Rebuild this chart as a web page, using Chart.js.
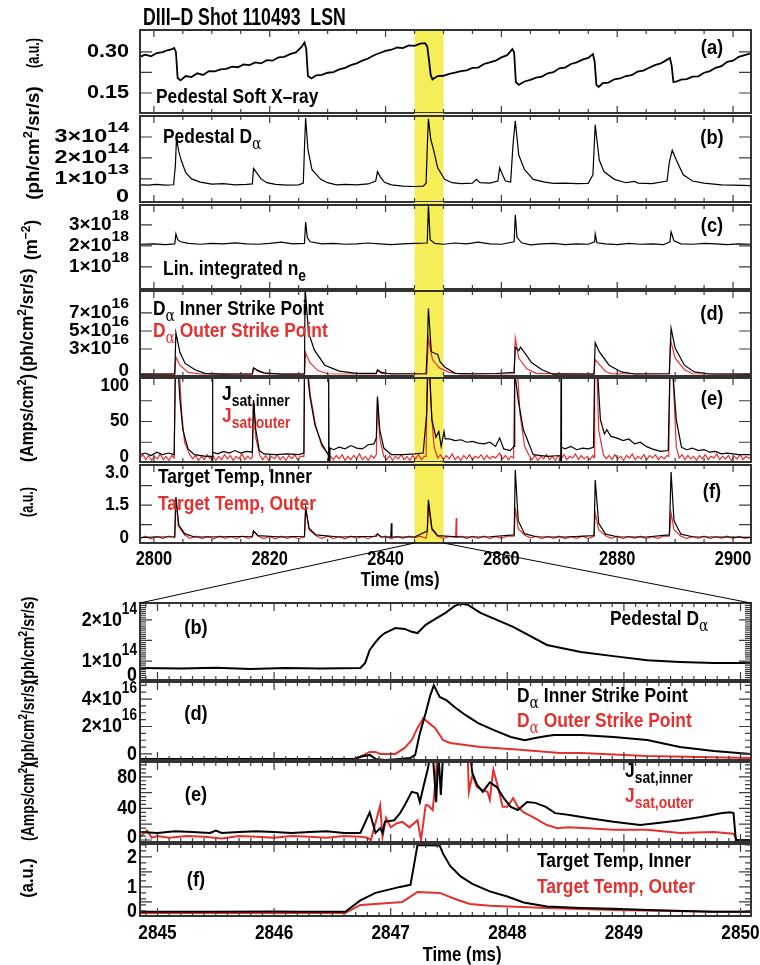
<!DOCTYPE html>
<html>
<head>
<meta charset="utf-8">
<script src="https://cdn.jsdelivr.net/npm/chart.js@4.4.1/dist/chart.umd.min.js"></script>
<style>
  body { margin: 0; background: #fff; }
  #fig { position: relative; width: 760px; height: 965px; overflow: hidden; background: #fff;
         font-family: "Liberation Sans", Arial, sans-serif; font-weight: bold; }
  #fig canvas { position: absolute; left: 0; }
  .txt { position: absolute; white-space: nowrap; line-height: 1; }
  .txt sub { font-size: 0.8em; vertical-align: -0.4em; line-height: 0; }
  .txt sup { font-size: 0.7em; vertical-align: 0.55em; line-height: 0; }
  .alpha { font-family: "DejaVu Serif", serif; font-weight: normal; }
</style>
</head>
<body>
<div id="fig"></div>
<script>
// ---- time axes ----
const topRange = [2797.6, 2903.1];
const zoomRange = [2844.85, 2850.09];
const bandRange = [2845, 2850];
const topTimeTicks = [2800, 2820, 2840, 2860, 2880, 2900];
const zoomTimeTicks = [2845, 2846, 2847, 2848, 2849, 2850];

// ---- top panels: [time ms, value] ----
// (a) pedestal soft x-ray, a.u.
const softXray = [[2797.6,.282],[2798.5,.290],[2799.5,.284],[2800.5,.296],[2801.5,.299],[2802.3,.306],[2803.0,.309],[2803.5,.314],[2803.8,.300],[2804.1,.205],[2804.6,.196],[2805.5,.212],[2806.5,.208],[2807.5,.222],[2808.5,.216],[2809.5,.230],[2810.5,.229],[2811.5,.236],[2812.5,.238],[2813.5,.246],[2814.5,.244],[2815.5,.254],[2816.5,.252],[2817.5,.262],[2818.5,.258],[2819.5,.270],[2820.5,.268],[2821.5,.280],[2822.5,.282],[2823.5,.292],[2824.5,.298],[2825.5,.318],[2826.0,.334],[2826.3,.312],[2826.6,.212],[2827.2,.203],[2828,.214],[2829,.216],[2830,.224],[2831,.226],[2832,.236],[2833,.242],[2834,.252],[2835,.258],[2836,.268],[2837,.276],[2838,.288],[2839,.296],[2840,.304],[2841,.308],[2842,.316],[2843,.314],[2844,.324],[2845,.322],[2846,.330],[2846.8,.332],[2847.2,.320],[2847.5,.270],[2847.8,.215],[2848.1,.200],[2849,.212],[2850,.213],[2851,.220],[2852,.224],[2853,.230],[2854,.233],[2855,.242],[2856,.243],[2857,.256],[2858,.262],[2859,.268],[2860,.280],[2861,.288],[2861.9,.310],[2862.2,.298],[2862.5,.190],[2863,.180],[2864,.192],[2865,.198],[2866,.206],[2867,.210],[2868,.222],[2869,.226],[2870,.240],[2871,.243],[2872,.256],[2873,.262],[2874,.272],[2875,.278],[2875.8,.292],[2876.1,.265],[2876.4,.180],[2876.8,.172],[2877.5,.186],[2878.5,.188],[2879.5,.200],[2880.5,.203],[2881.5,.212],[2882.5,.215],[2883.5,.228],[2884.5,.232],[2885.5,.242],[2886.5,.252],[2887.5,.258],[2888.5,.270],[2889.1,.278],[2889.4,.250],[2889.7,.190],[2890.3,.192],[2891,.199],[2892,.201],[2893,.210],[2894,.211],[2895,.224],[2896,.230],[2897,.242],[2898,.248],[2899,.264],[2900,.268],[2901,.282],[2902,.288],[2903.1,.295]];
// (b) pedestal D-alpha, 1e14 ph/cm2/sr/s
const pedDalpha = [[2797.6,.72],[2799,.70],[2800.5,.74],[2802,.70],[2803.4,.72],[2803.7,1.6],[2803.9,2.93],[2804.3,2.3],[2804.7,1.9],[2805.5,1.3],[2806.5,1.0],[2808,.85],[2810,.75],[2812,.78],[2814,.72],[2816,.74],[2817,.76],[2817.2,1.5],[2817.6,1.35],[2818.5,1.0],[2819.5,.82],[2821,.74],[2823,.70],[2825,.72],[2825.8,.8],[2826.0,2.5],[2826.2,3.9],[2826.6,2.4],[2827.3,1.44],[2828.8,.98],[2830,.82],[2831.5,.72],[2833,.74],[2835,.72],[2837,.76],[2838.3,.9],[2838.6,1.35],[2839.1,1.1],[2839.8,.84],[2841,.72],[2843,.66],[2845,.64],[2846.5,.66],[2847,.8],[2847.2,2.5],[2847.4,3.86],[2847.8,2.9],[2848.3,2.37],[2849,1.53],[2850.2,.98],[2851.5,.82],[2853,.78],[2855,.8],[2855.7,.98],[2856.3,.82],[2858,.8],[2859.4,.9],[2859.7,1.53],[2860.2,1.2],[2860.7,.9],[2861.6,.85],[2862.0,2.6],[2862.4,3.77],[2863,2.14],[2864,1.44],[2865.5,.98],[2867.5,.85],[2869,.79],[2871,.8],[2873,.78],[2875,.79],[2875.8,1.2],[2876.2,3.58],[2876.9,1.9],[2877.7,1.35],[2879.5,.98],[2881.5,.82],[2883,.88],[2883.6,.8],[2886,.78],[2888.6,.9],[2889.0,1.8],[2889.5,2.37],[2890.2,1.9],[2891.4,1.2],[2893,.9],[2895,.8],[2898,.72],[2900,.7],[2903.1,.68]];
// (c) line integrated density, 1e18 m^-2
const lineDensity = [[2797.6,2.08],[2800,2.1],[2802,2.06],[2803.6,2.1],[2803.8,2.57],[2804.1,2.3],[2804.6,2.2],[2806,2.12],[2808,2.08],[2810,2.12],[2812,2.1],[2814,2.15],[2816,2.1],[2818,2.08],[2820,2.12],[2822,2.18],[2824,2.1],[2826,2.12],[2826.2,3.14],[2826.5,2.4],[2827,2.2],[2829,2.1],[2831,2.12],[2833,2.08],[2835,2.1],[2837,2.14],[2839,2.1],[2841,2.06],[2843,2.1],[2845,2.12],[2847.2,2.14],[2847.4,3.95],[2847.7,2.3],[2848.5,2.12],[2850,2.08],[2852,2.14],[2854,2.1],[2856,2.18],[2858,2.1],[2860,2.08],[2862.2,2.2],[2862.4,3.48],[2862.7,2.4],[2863.5,2.15],[2865,2.05],[2867,2.1],[2869,2.12],[2871,2.06],[2873,2.1],[2875,2.08],[2876.1,2.2],[2876.2,2.57],[2876.5,2.15],[2878,2.1],[2880,2.06],[2882,2.12],[2884,2.08],[2886,2.1],[2888,2.06],[2889.1,2.2],[2889.3,2.67],[2889.8,2.25],[2891,2.1],[2893,2.08],[2895,2.12],[2897,2.1],[2899,2.06],[2901,2.1],[2903.1,2.08]];
// (d) D-alpha at strike points, 1e16
const dalphaInner = [[2797.6,.2],[2803.6,.22],[2803.8,4.8],[2804.5,2.6],[2805.4,1.4],[2807.1,.7],[2808.8,.3],[2812,.2],[2817,.25],[2817.2,.9],[2818,.6],[2819,.35],[2822,.2],[2826,.22],[2826.1,9.8],[2826.7,4.8],[2827.7,2.9],[2829.5,1.2],[2832,.55],[2835,.3],[2838.4,.3],[2838.6,.7],[2839.3,.4],[2841,.22],[2847,.25],[2847.2,3],[2847.4,7.5],[2847.9,2.7],[2848.6,2.5],[2849.0,2.4],[2849.4,1.6],[2850.2,1.0],[2852,.3],[2855,.25],[2859,.28],[2862.2,.4],[2862.4,3.2],[2863,2.8],[2863.3,3.2],[2864,2.6],[2865.2,1.5],[2867,.7],[2868.9,.2],[2876,.22],[2876.2,3.7],[2876.9,2.7],[2878.6,1.2],[2880.7,.45],[2883,.22],[2889,.25],[2889.3,5.3],[2890,3.1],[2891.6,1.2],[2893.3,.45],[2896,.22],[2903.1,.2]];
const dalphaOuter = [[2797.6,.2],[2803.6,.2],[2803.8,2.1],[2804.5,1.2],[2805.9,.4],[2808,.22],[2817,.2],[2817.2,.9],[2818,.5],[2819.5,.25],[2826,.2],[2826.2,2.6],[2826.9,1.5],[2828.3,.6],[2830,.25],[2838.4,.22],[2838.6,.6],[2839.3,.3],[2847.1,.25],[2847.4,4.2],[2848.1,1.8],[2849.3,.9],[2851,.4],[2853,.22],[2862.2,.25],[2862.4,4.2],[2863,2.0],[2864.4,.8],[2866,.3],[2876,.22],[2876.2,1.8],[2877,1.2],[2878,.5],[2879,.25],[2889,.25],[2889.2,4.0],[2890,2.0],[2891.6,.7],[2893,.25],[2903.1,.2]];
// (e) ion saturation current, Amps/cm2
const jsatInner = [[2797.6,10],[2798.5,12],[2799.5,9],[2800.5,13],[2801.5,10],[2802.5,12],[2803.5,10],[2803.7,110],[2804.2,110],[2804.5,76],[2805,40],[2805.9,17],[2807,10],[2809,8],[2810.0,8],[2810.05,1],[2810.1,110],[2810.15,1],[2810.2,13],[2811,11],[2812,14],[2813,12],[2814,15],[2815,12],[2816,14],[2817,13],[2817.2,76],[2817.6,40],[2818.2,15],[2819,11],[2821,10],[2823,11],[2825,10],[2825.9,12],[2826.0,110],[2826.5,110],[2826.9,82],[2827.8,46],[2829,23],[2830.1,10],[2830.15,1],[2830.2,110],[2830.25,1],[2830.4,18],[2831,16],[2832,19],[2833,17],[2834,21],[2835,18],[2836,17],[2837,22],[2838,23],[2838.4,30],[2838.6,80],[2839,40],[2839.7,18],[2841,10],[2843,10],[2845,11],[2846.5,12],[2847.1,60],[2847.3,110],[2847.6,110],[2848.0,52],[2848.7,31],[2849.2,38],[2849.6,20],[2850.1,38],[2850.3,29],[2851,29],[2852,27],[2853,28],[2854,25],[2855,26],[2856,24],[2857,23],[2858,25],[2859,20],[2859.7,30],[2860.4,17],[2861.5,15],[2862.2,20],[2862.3,110],[2862.9,76],[2863.8,40],[2865.5,10],[2868,8],[2870.2,9],[2870.25,1],[2870.3,110],[2870.35,1],[2870.4,19],[2871,17],[2872,20],[2873,16],[2874,18],[2875,17],[2875.9,19],[2876.1,110],[2876.6,110],[2877.1,52],[2877.8,35],[2878.2,40],[2878.9,32],[2880,30],[2881,27],[2882,29],[2883,23],[2884,25],[2885,20],[2886,17],[2887.5,14],[2888.8,15],[2889.1,110],[2889.6,110],[2890.2,52],[2891.1,19],[2892,16],[2893,18],[2894,15],[2895,16],[2896,13],[2897,14],[2898,11],[2899,12],[2901,10],[2903.1,10]];
const jsatOuter = [[2797.6,6],[2798.1,10],[2798.6,4],[2799.1,9],[2799.6,3],[2800.1,8],[2800.6,5],[2801.1,11],[2801.6,4],[2802.1,8],[2802.6,3],[2803.1,9],[2803.5,6],[2803.7,110],[2804.4,110],[2804.8,60],[2805.3,25],[2806.2,10],[2806.7,5],[2807.2,9],[2807.7,3],[2808.2,8],[2808.7,4],[2809.2,10],[2809.7,5],[2810.2,9],[2810.7,3],[2811.2,8],[2811.7,4],[2812.2,10],[2812.7,5],[2813.2,9],[2813.7,3],[2814.2,8],[2814.7,5],[2815.2,11],[2815.7,4],[2816.2,8],[2816.7,5],[2817,7],[2817.2,76],[2817.6,30],[2818.3,9],[2818.8,4],[2819.3,9],[2819.8,3],[2820.3,8],[2820.8,5],[2821.3,10],[2821.8,4],[2822.3,8],[2822.8,3],[2823.3,9],[2823.8,5],[2824.3,10],[2824.8,4],[2825.3,8],[2825.9,8],[2826.0,110],[2826.6,110],[2827,82],[2827.9,46],[2829,20],[2830.5,8],[2831,4],[2831.5,9],[2832,5],[2832.5,10],[2833,3],[2833.5,8],[2834,4],[2834.5,9],[2835,5],[2835.5,11],[2836,4],[2836.5,8],[2837,3],[2837.5,9],[2838,6],[2838.4,10],[2838.6,78],[2839,30],[2839.7,8],[2840.2,4],[2840.7,9],[2841.2,3],[2841.7,8],[2842.2,5],[2842.7,10],[2843.2,4],[2843.7,8],[2844.2,3],[2844.7,9],[2845.2,5],[2845.7,10],[2846.2,4],[2846.7,8],[2847,8],[2847.2,110],[2847.6,110],[2848.0,52],[2848.4,19],[2849,6],[2849.5,10],[2850,4],[2850.5,9],[2851,5],[2851.5,11],[2852,4],[2852.5,8],[2853,3],[2853.5,9],[2854,5],[2854.5,10],[2855,4],[2855.5,8],[2856,6],[2856.5,10],[2857,4],[2857.5,9],[2858,5],[2858.5,8],[2859,6],[2859.7,12],[2860.2,5],[2860.7,9],[2861.2,4],[2861.7,8],[2862.1,6],[2862.3,110],[2862.8,110],[2863.2,60],[2864,20],[2864.8,9],[2865.3,4],[2865.8,9],[2866.3,3],[2866.8,8],[2867.3,5],[2867.8,10],[2868.3,4],[2868.8,8],[2869.3,3],[2869.8,9],[2870.3,5],[2870.8,10],[2871.3,4],[2871.8,8],[2872.3,6],[2872.8,11],[2873.3,4],[2873.8,9],[2874.3,5],[2874.8,8],[2875.3,4],[2875.8,9],[2876.0,6],[2876.1,110],[2876.5,110],[2876.8,40],[2877.6,10],[2878.1,5],[2878.6,9],[2879.1,4],[2879.6,10],[2880.1,5],[2880.6,8],[2881.1,3],[2881.6,9],[2882.1,6],[2882.6,11],[2883.1,4],[2883.6,8],[2884.1,5],[2884.6,10],[2885.1,4],[2885.6,9],[2886.1,6],[2886.6,10],[2887.1,4],[2887.6,8],[2888.1,5],[2888.6,9],[2888.9,8],[2889.1,110],[2889.6,110],[2890.2,19],[2890.7,6],[2891.2,10],[2891.7,4],[2892.2,9],[2892.7,5],[2893.2,8],[2893.7,3],[2894.2,9],[2894.7,5],[2895.2,10],[2895.7,4],[2896.2,8],[2896.7,6],[2897.2,11],[2897.7,4],[2898.2,8],[2898.7,5],[2899.2,9],[2899.7,3],[2900.2,8],[2900.7,5],[2901.2,10],[2901.7,4],[2902.2,8],[2902.7,6],[2903.1,7]];
// (f) target temperature, a.u.
const tempInner = [[2797.6,.25],[2800,.27],[2803.6,.28],[2803.8,1.8],[2804.3,.73],[2805.3,.4],[2807,.27],[2812,.28],[2817,.3],[2817.2,.5],[2818,.32],[2822,.27],[2826,.3],[2826.2,1.4],[2826.8,.6],[2828,.35],[2832,.27],[2838.4,.3],[2838.6,.4],[2839.2,.28],[2840.9,.27],[2841.0,.8],[2841.1,.27],[2845,.27],[2847.2,.5],[2847.4,1.7],[2848,.6],[2849,.32],[2853,.27],[2858,.28],[2862.2,.35],[2862.4,2.85],[2862.9,.9],[2864,.4],[2866,.28],[2871,.27],[2876,.32],[2876.2,2.46],[2876.8,.8],[2878,.38],[2880,.28],[2885,.27],[2889,.35],[2889.3,2.77],[2889.8,.9],[2891,.38],[2893,.28],[2898,.27],[2903.1,.26]];
const tempOuter = [[2797.6,.22],[2798.5,.3],[2799.5,.2],[2800.5,.29],[2801.5,.21],[2802.5,.3],[2803.6,.25],[2803.8,1.8],[2804.2,.7],[2805.3,.35],[2806.3,.22],[2807.3,.3],[2808.3,.21],[2809.3,.29],[2810.3,.2],[2811.3,.3],[2812.3,.22],[2813.3,.28],[2814.3,.21],[2815.3,.3],[2816.3,.22],[2817,.27],[2817.2,.5],[2818,.3],[2819,.21],[2820,.29],[2821,.2],[2822,.3],[2823,.22],[2824,.28],[2825,.21],[2826,.27],[2826.2,1.4],[2826.8,.55],[2828,.32],[2829,.22],[2830,.3],[2831,.21],[2832,.29],[2833,.2],[2834,.3],[2835,.22],[2836,.28],[2837,.21],[2838,.3],[2838.6,.38],[2839.2,.26],[2840,.3],[2841,.21],[2842,.29],[2843,.22],[2844,.3],[2845,.25],[2846,.3],[2847,.22],[2847.2,.45],[2847.4,1.5],[2848,.55],[2849,.3],[2850,.22],[2851,.29],[2852.1,.26],[2852.2,1.0],[2852.3,.26],[2853,.3],[2854,.21],[2855,.29],[2856,.22],[2857,.3],[2858,.21],[2859,.28],[2860,.22],[2861,.3],[2862.2,.3],[2862.4,1.4],[2862.9,.6],[2864,.35],[2865,.24],[2866,.3],[2867,.21],[2868,.29],[2869,.22],[2870,.3],[2871,.21],[2872,.28],[2873,.22],[2874,.3],[2875,.21],[2876,.3],[2876.2,1.2],[2876.8,.55],[2878,.32],[2879,.22],[2880,.3],[2881,.21],[2882,.29],[2883,.22],[2884,.3],[2885,.21],[2886,.28],[2887,.22],[2888,.3],[2889,.3],[2889.3,1.2],[2889.8,.55],[2891,.3],[2892,.21],[2893,.29],[2894,.22],[2895,.3],[2896,.21],[2897,.28],[2898,.22],[2899,.3],[2900,.21],[2901,.29],[2902,.22],[2903.1,.26]];

// ---- zoomed panels 2845-2850 ms ----
const zPedDalpha = [[2844.85,.83],[2845.2,.82],[2845.5,.84],[2845.8,.81],[2846.1,.83],[2846.4,.82],[2846.74,.83],[2846.78,.95],[2846.82,1.27],[2846.87,1.46],[2846.91,1.59],[2846.95,1.68],[2847.04,1.8],[2847.12,1.78],[2847.18,1.71],[2847.23,1.68],[2847.30,1.88],[2847.38,2.02],[2847.47,2.17],[2847.55,2.34],[2847.60,2.39],[2847.66,2.37],[2847.77,2.17],[2848.05,1.83],[2848.34,1.39],[2848.63,1.22],[2848.91,1.12],[2849.2,1.02],[2849.48,.98],[2849.77,.95],[2850.09,.95]];
const zDalphaInner = [[2844.85,-.36],[2845.5,-.36],[2846.2,-.36],[2846.69,-.36],[2846.74,-.2],[2846.82,-.07],[2846.87,-.36],[2846.95,-.44],[2847.08,-.36],[2847.17,-.29],[2847.21,-.07],[2847.25,1.5],[2847.30,2.98],[2847.34,4.29],[2847.37,5.0],[2847.42,4.15],[2847.48,3.9],[2847.55,3.4],[2847.64,2.84],[2847.75,2.25],[2847.88,1.75],[2848.03,1.24],[2848.15,1.0],[2848.24,1.16],[2848.34,1.3],[2848.40,1.38],[2848.63,1.38],[2848.91,1.24],[2849.2,1.02],[2849.48,.5],[2849.77,.22],[2850.09,0]];
const zDalphaOuter = [[2844.85,-.36],[2846.69,-.36],[2846.74,-.2],[2846.82,.15],[2846.87,.15],[2846.91,0],[2847.04,0],[2847.12,.44],[2847.18,1.0],[2847.23,1.9],[2847.28,2.6],[2847.32,2.3],[2847.38,1.9],[2847.45,1.0],[2847.51,.8],[2847.77,.5],[2848.11,.3],[2848.45,.07],[2848.63,.07],[2849.2,-.15],[2850.09,-.3]];
const zJsatInner = [[2844.85,10],[2845.0,9],[2845.15,11],[2845.3,10],[2845.45,9],[2845.5,12],[2845.55,9],[2845.7,10],[2845.85,11],[2846.0,10],[2846.15,9],[2846.3,10],[2846.45,11],[2846.6,9],[2846.74,9],[2846.82,35],[2846.87,9],[2846.91,15],[2846.93,9],[2846.95,23],[2847.03,25],[2847.08,34],[2847.12,44],[2847.18,61],[2847.23,59],[2847.25,48],[2847.28,67],[2847.32,91],[2847.34,110],[2847.36,110],[2847.39,48],[2847.41,110],[2847.43,57],[2847.45,110],[2847.68,110],[2847.70,85],[2847.74,70],[2847.79,61],[2847.85,73],[2847.91,67],[2847.97,53],[2848.03,42],[2848.09,38],[2848.17,48],[2848.24,47],[2848.33,42],[2848.41,34],[2848.52,32],[2848.69,28],[2848.91,23],[2849.14,19],[2849.31,22],[2849.48,25],[2849.66,29],[2849.83,34],[2849.91,35],[2849.94,34],[2849.96,0],[2850.09,0]];
const zJsatOuter = [[2844.85,4],[2844.91,12],[2844.95,3],[2845.0,5],[2845.1,3],[2845.25,5],[2845.4,4],[2845.55,2],[2845.7,5],[2845.85,4],[2846.0,3],[2846.15,5],[2846.3,4],[2846.45,3],[2846.6,5],[2846.74,4],[2846.80,3],[2846.83,0],[2846.91,44],[2846.93,4],[2846.96,28],[2847.0,16],[2847.05,21],[2847.1,23],[2847.16,16],[2847.23,25],[2847.26,0],[2847.30,44],[2847.32,44],[2847.36,38],[2847.38,67],[2847.40,110],[2847.66,110],[2847.67,61],[2847.70,82],[2847.74,67],[2847.79,63],[2847.83,61],[2847.85,51],[2847.88,89],[2847.92,67],[2847.96,42],[2848.00,42],[2848.05,53],[2848.09,42],[2848.14,35],[2848.22,29],[2848.34,19],[2848.43,15],[2848.52,16],[2848.69,15],[2848.91,13],[2849.2,13],[2849.48,9],[2849.77,10],[2849.94,8],[2849.97,0],[2850.09,0]];
const zTempInner = [[2844.85,.17],[2845.5,.17],[2846.0,.18],[2846.2,.17],[2846.61,.17],[2846.74,.55],[2846.87,.8],[2847.08,1.0],[2847.17,1.07],[2847.23,2.4],[2847.42,2.38],[2847.45,2.1],[2847.51,1.7],[2847.6,1.35],[2847.7,1.1],[2847.85,.85],[2848.0,.68],[2848.14,.48],[2848.34,.35],[2848.63,.3],[2848.91,.27],[2849.2,.23],[2849.77,.17],[2850.09,.17]];
const zTempOuter = [[2844.85,.13],[2846.61,.13],[2846.74,.4],[2846.87,.43],[2847.1,.5],[2847.23,.83],[2847.42,.8],[2847.57,.57],[2847.68,.43],[2847.85,.37],[2848.34,.3],[2848.91,.23],[2849.77,.17],[2850.09,.17]];

// ---- y tick labels ----
const sxrTicks = [0.15, 0.30];          const sxrTickLabels = ["0.15", "0.30"];
const pedTicks = [0, 1, 2, 3];          const pedTickLabels = ["0", "1×10^13", "2×10^14", "3×10^14"];
const neTicks = [1, 2, 3];              const neTickLabels = ["1×10^18", "2×10^18", "3×10^18"];
const spTicks = [0, 3, 5, 7];           const spTickLabels = ["0", "3×10^16", "5×10^16", "7×10^16"];
const jTicks = [0, 50, 100];            const jTickLabels = ["0", "50", "100"];
const tTicks = [0, 1.5, 3.0];           const tTickLabels = ["0", "1.5", "3.0"];
const zPedTicks = [0, 1, 2];            const zPedTickLabels = ["0", "1×10^14", "2×10^14"];
const zSpTicks = [0, 2, 4];             const zSpTickLabels = ["0", "2×10^16", "4×10^16"];
const zJTicks = [0, 40, 80];            const zJTickLabels = ["0", "40", "80"];
const zTTicks = [0, 1, 2];              const zTTickLabels = ["0", "1", "2"];

const RED = '#e3312f';
const FAMILY = '"Liberation Sans", Arial, sans-serif';
const fig = document.getElementById('fig');

const topStyle = { yFont: 18, yRight: 129, expScale: 0.85, xFont: 20, xOff: 16, yMajorLen: 12, yMinorLen: 5, xMajorLen: 7, xMinorLen: 4, xMinorStep: 5, lw: 1.2 };
const zoomStyle = { yFont: 21, yRight: 137, expScale: 0.78, xFont: 21, xOff: 17, yMajorLen: 12, yMinorLen: 6, xMajorLen: 8, xMinorLen: 4, xMinorStep: 0.1, lw: 2 };

// draws a tick label, "a^b" puts b as a raised exponent; sx squeezes or widens the glyphs
function drawLabel(ctx, text, x, y, size, sx, expScale) {
  const parts = text.split('^');
  ctx.save();
  ctx.translate(x, y);
  ctx.scale(sx, 1);
  ctx.font = 'bold ' + size + 'px ' + FAMILY;
  if (parts.length === 1) {
    ctx.fillText(text, 0, 0);
  } else {
    const es = Math.round(size * expScale);
    ctx.font = 'bold ' + es + 'px ' + FAMILY;
    const ew = ctx.measureText(parts[1]).width;
    ctx.fillText(parts[1], 0, -size * 0.5);
    ctx.font = 'bold ' + size + 'px ' + FAMILY;
    ctx.fillText(parts[0], -ew, 0);
  }
  ctx.restore();
}

function stepValues(min, max, step) {
  const out = [];
  for (let v = Math.ceil(min / step) * step; v <= max + 1e-9; v += step) out.push(v);
  return out;
}

function makeFrame(cfg) {
  const st = cfg.style;
  return {
    id: 'frame',
    beforeDatasetsDraw(chart) {
      if (!cfg.band) return;
      const { ctx, chartArea: a, scales: { x } } = chart;
      const x0 = x.getPixelForValue(bandRange[0]), x1 = x.getPixelForValue(bandRange[1]);
      const y0 = a.top - (cfg.first ? 0 : 3), y1 = a.bottom + (cfg.last ? 0 : 3);
      ctx.save();
      ctx.fillStyle = '#f6ee58';
      ctx.fillRect(x0, y0, x1 - x0, y1 - y0);
      ctx.restore();
    },
    afterDraw(chart) {
      const { ctx, chartArea: a, scales: { x, y } } = chart;
      ctx.save();
      ctx.strokeStyle = '#3c3c3c';
      ctx.lineWidth = 1.2;
      ctx.beginPath();
      const seg = (x0, y0, x1, y1) => { ctx.moveTo(x0, y0); ctx.lineTo(x1, y1); };
      const yTick = (v, len) => { const p = y.getPixelForValue(v); if (p < a.top || p > a.bottom) return; seg(a.left, p, a.left + len, p); seg(a.right, p, a.right - len, p); };
      const xTick = (v, len) => { const p = x.getPixelForValue(v); if (p < a.left || p > a.right) return; seg(p, a.top, p, a.top + len); seg(p, a.bottom, p, a.bottom - len); };
      if (cfg.yMinorStep) stepValues(y.min, y.max, cfg.yMinorStep).forEach(v => yTick(v, st.yMinorLen));
      cfg.yMajor.forEach(v => yTick(v, st.yMajorLen));
      stepValues(x.min, x.max, st.xMinorStep).forEach(v => xTick(v, st.xMinorLen));
      cfg.xTicks.forEach(v => xTick(v, st.xMajorLen));
      ctx.stroke();
      ctx.lineWidth = 2;
      ctx.strokeStyle = '#333';
      ctx.strokeRect(a.left, a.top, a.right - a.left, a.bottom - a.top);

      ctx.fillStyle = '#000';
      ctx.textAlign = 'right';
      ctx.textBaseline = 'middle';
      cfg.yTicks.forEach((v, i) => {
        const p = Math.min(Math.max(y.getPixelForValue(v), a.top + 8), a.bottom - 5);
        drawLabel(ctx, cfg.yLabels[i], st.yRight, p, st.yFont, cfg.yStretch, st.expScale);
      });
      if (cfg.last) {
        ctx.textAlign = 'center';
        cfg.xTicks.forEach(v => drawLabel(ctx, String(v), x.getPixelForValue(v), a.bottom + st.xOff, st.xFont, 0.82, 1));
      }
      ctx.restore();
    }
  };
}

function panel(cfg) {
  const padTop = 14, padBottom = cfg.last ? 40 : 14;
  const canvas = document.createElement('canvas');
  canvas.width = 760;
  canvas.height = cfg.bottom - cfg.top + padTop + padBottom;
  canvas.style.top = (cfg.top - padTop) + 'px';
  fig.appendChild(canvas);
  return new Chart(canvas, {
    type: 'line',
    data: {
      datasets: cfg.series.map(s => ({
        data: s.data.map(p => ({ x: p[0], y: p[1] })),
        borderColor: s.color,
        borderWidth: cfg.lw || cfg.style.lw,
        pointRadius: 0,
        tension: 0,
        fill: false
      }))
    },
    options: {
      responsive: false,
      animation: false,
      devicePixelRatio: 1,
      layout: { padding: { left: 140, right: 9, top: padTop, bottom: padBottom } },
      plugins: { legend: { display: false }, tooltip: { enabled: false } },
      scales: {
        x: { type: 'linear', min: cfg.xRange[0], max: cfg.xRange[1], display: false },
        y: { type: 'linear', min: cfg.yRange[0], max: cfg.yRange[1], display: false }
      }
    },
    plugins: [makeFrame(cfg)]
  });
}

const base = { xRange: topRange, xTicks: topTimeTicks, style: topStyle, band: true };
panel({ ...base, top: 30, bottom: 113, first: true, lw: 1.8, yStretch: 1.2, yRange: [0.077, 0.38], yTicks: sxrTicks, yLabels: sxrTickLabels, yMajor: [0.15, 0.225, 0.30],
  series: [{ data: softXray, color: '#000' }] });
panel({ ...base, top: 116, bottom: 202, yStretch: 1.3, yRange: [-0.1, 4.0], yTicks: pedTicks, yLabels: pedTickLabels, yMajor: [1, 2, 3],
  series: [{ data: pedDalpha, color: '#000' }] });
panel({ ...base, top: 205, bottom: 289, yStretch: 1.05, yRange: [-0.05, 3.95], yTicks: neTicks, yLabels: neTickLabels, yMajor: [1, 2, 3],
  series: [{ data: lineDensity, color: '#000' }] });
panel({ ...base, top: 291, bottom: 376, yStretch: 1.05, yRange: [0, 9.44], yTicks: spTicks, yLabels: spTickLabels, yMajor: [3, 5, 7],
  series: [{ data: dalphaInner, color: '#000' }, { data: dalphaOuter, color: RED }] });
panel({ ...base, top: 378, bottom: 462, yStretch: 0.95, yRange: [1.2, 102.4], yTicks: jTicks, yLabels: jTickLabels, yMajor: [25, 50, 75],
  series: [{ data: jsatInner, color: '#000' }, { data: jsatOuter, color: RED }] });
const topF = panel({ ...base, top: 465, bottom: 543, last: true, yStretch: 0.95, yRange: [0.04, 3.04], yTicks: tTicks, yLabels: tTickLabels, yMajor: [0.75, 1.5, 2.25],
  series: [{ data: tempInner, color: '#000' }, { data: tempOuter, color: RED }] });

const zbase = { xRange: zoomRange, xTicks: zoomTimeTicks, style: zoomStyle, band: false, yStretch: 0.85 };
const zoomB = panel({ ...zbase, top: 603, bottom: 680, yRange: [0.54, 2.41], yTicks: zPedTicks, yLabels: zPedTickLabels, yMajor: [1, 1.5, 2], yMinorStep: 0.05,
  series: [{ data: zPedDalpha, color: '#000' }] });
panel({ ...zbase, top: 682, bottom: 760, yRange: [-0.44, 5.24], yTicks: zSpTicks, yLabels: zSpTickLabels, yMajor: [0, 2, 4], yMinorStep: 0.5,
  series: [{ data: zDalphaInner, color: '#000' }, { data: zDalphaOuter, color: RED }] });
panel({ ...zbase, top: 762, bottom: 842, yRange: [-2.5, 98.7], yTicks: zJTicks, yLabels: zJTickLabels, yMajor: [0, 20, 40, 60, 80], yMinorStep: 5,
  series: [{ data: zJsatInner, color: '#000' }, { data: zJsatOuter, color: RED }] });
panel({ ...zbase, top: 844, bottom: 916, last: true, yRange: [0.03, 2.43], yTicks: zTTicks, yLabels: zTTickLabels, yMajor: [0.5, 1, 1.5, 2], yMinorStep: 0.2,
  series: [{ data: zTempInner, color: '#000' }, { data: zTempOuter, color: RED }] });

// zoom connector lines from the yellow band to the lower panels
const over = document.createElement('canvas');
over.width = 760; over.height = 965; over.style.top = '0px';
fig.appendChild(over);
(function () {
  const c = over.getContext('2d');
  const xs = topF.scales.x, a = topF.chartArea, b = zoomB.chartArea;
  const yTop = parseFloat(topF.canvas.style.top), yZoom = parseFloat(zoomB.canvas.style.top);
  c.strokeStyle = '#000';
  c.lineWidth = 1;
  c.beginPath();
  c.moveTo(xs.getPixelForValue(bandRange[0]), yTop + a.bottom);
  c.lineTo(b.left, yZoom + b.top);
  c.moveTo(xs.getPixelForValue(bandRange[1]), yTop + a.bottom);
  c.lineTo(b.right, yZoom + b.top);
  c.stroke();
})();

// text; mode: 'l' left anchored, 'c' centred, 'r' rotated and centred
function addText(html, x, y, size, color, mode, sx) {
  const d = document.createElement('div');
  d.className = 'txt';
  d.innerHTML = html;
  d.style.left = x + 'px';
  d.style.top = y + 'px';
  d.style.fontSize = size + 'px';
  d.style.color = color || '#000';
  if (mode === 'c') d.style.transform = 'translate(-50%, -50%) scaleX(' + sx + ')';
  else if (mode === 'r') d.style.transform = 'translate(-50%, -50%) rotate(-90deg) scaleX(' + sx + ')';
  else { d.style.transformOrigin = '0 50%'; d.style.transform = 'translateY(-50%) scaleX(' + sx + ')'; }
  fig.appendChild(d);
}
const SQ = 0.87;
const DA = 'D<sub class="alpha">α</sub>';
addText('DIII–D Shot 110493&nbsp; LSN', 143, 17, 23, '#000', 'l', 0.77);
[['(a)', 46], ['(b)', 136], ['(c)', 224], ['(d)', 312], ['(e)', 397], ['(f)', 490]].forEach(p => addText(p[0], 712, p[1], 21, '#000', 'c', SQ));
[['(b)', 626], ['(d)', 712], ['(e)', 793], ['(f)', 878]].forEach(p => addText(p[0], 196, p[1], 21, '#000', 'c', SQ));

addText('Pedestal Soft X–ray', 156, 96, 20, '#000', 'l', SQ);
addText('Pedestal ' + DA, 163, 136, 20, '#000', 'l', SQ);
addText('Lin. integrated n<sub>e</sub>', 163, 268, 20, '#000', 'l', SQ);
addText(DA + ' Inner Strike Point', 153, 308, 20, '#000', 'l', SQ);
addText(DA + ' Outer Strike Point', 153, 330, 20, RED, 'l', SQ);
addText('J<sub>sat,inner</sub>', 222, 393, 20, '#000', 'l', SQ);
addText('J<sub>sat,outer</sub>', 222, 415, 20, RED, 'l', SQ);
addText('Target Temp, Inner', 158, 476, 20, '#000', 'l', SQ);
addText('Target Temp, Outer', 158, 503, 20, RED, 'l', SQ);

addText('Pedestal ' + DA, 610, 618, 20, '#000', 'l', SQ);
addText(DA + ' Inner Strike Point', 517, 695, 20, '#000', 'l', SQ);
addText(DA + ' Outer Strike Point', 517, 720, 20, RED, 'l', SQ);
addText('J<sub>sat,inner</sub>', 625, 770, 20, '#000', 'l', SQ);
addText('J<sub>sat,outer</sub>', 625, 795, 20, RED, 'l', SQ);
addText('Target Temp, Inner', 537, 860, 20, '#000', 'l', SQ);
addText('Target Temp, Outer', 537, 886, 20, RED, 'l', SQ);

addText('Time (ms)', 400, 578, 21, '#000', 'c', 0.8);
addText('Time (ms)', 462, 953, 21, '#000', 'c', 0.8);

const PH = '(ph/cm<sup>2</sup>/sr/s)';
const AMPS = '(Amps/cm<sup>2</sup>)';
[['(a.u.)', 33, 53, 0.7], [PH, 33, 143, 1.04], ['(m<sup>−2</sup>)', 31, 240, 0.95], [PH, 27, 320, 0.95], [AMPS, 27, 418, 0.88], ['(a.u.)', 27, 502, 0.7],
 [PH, 28, 640, 0.8], [PH, 28, 723, 0.78], [AMPS, 28, 802, 0.78], ['(a.u.)', 27, 878, 0.92]].forEach(p => addText(p[0], p[1], p[2], 18, '#000', 'r', p[3]));
</script>
</body>
</html>
